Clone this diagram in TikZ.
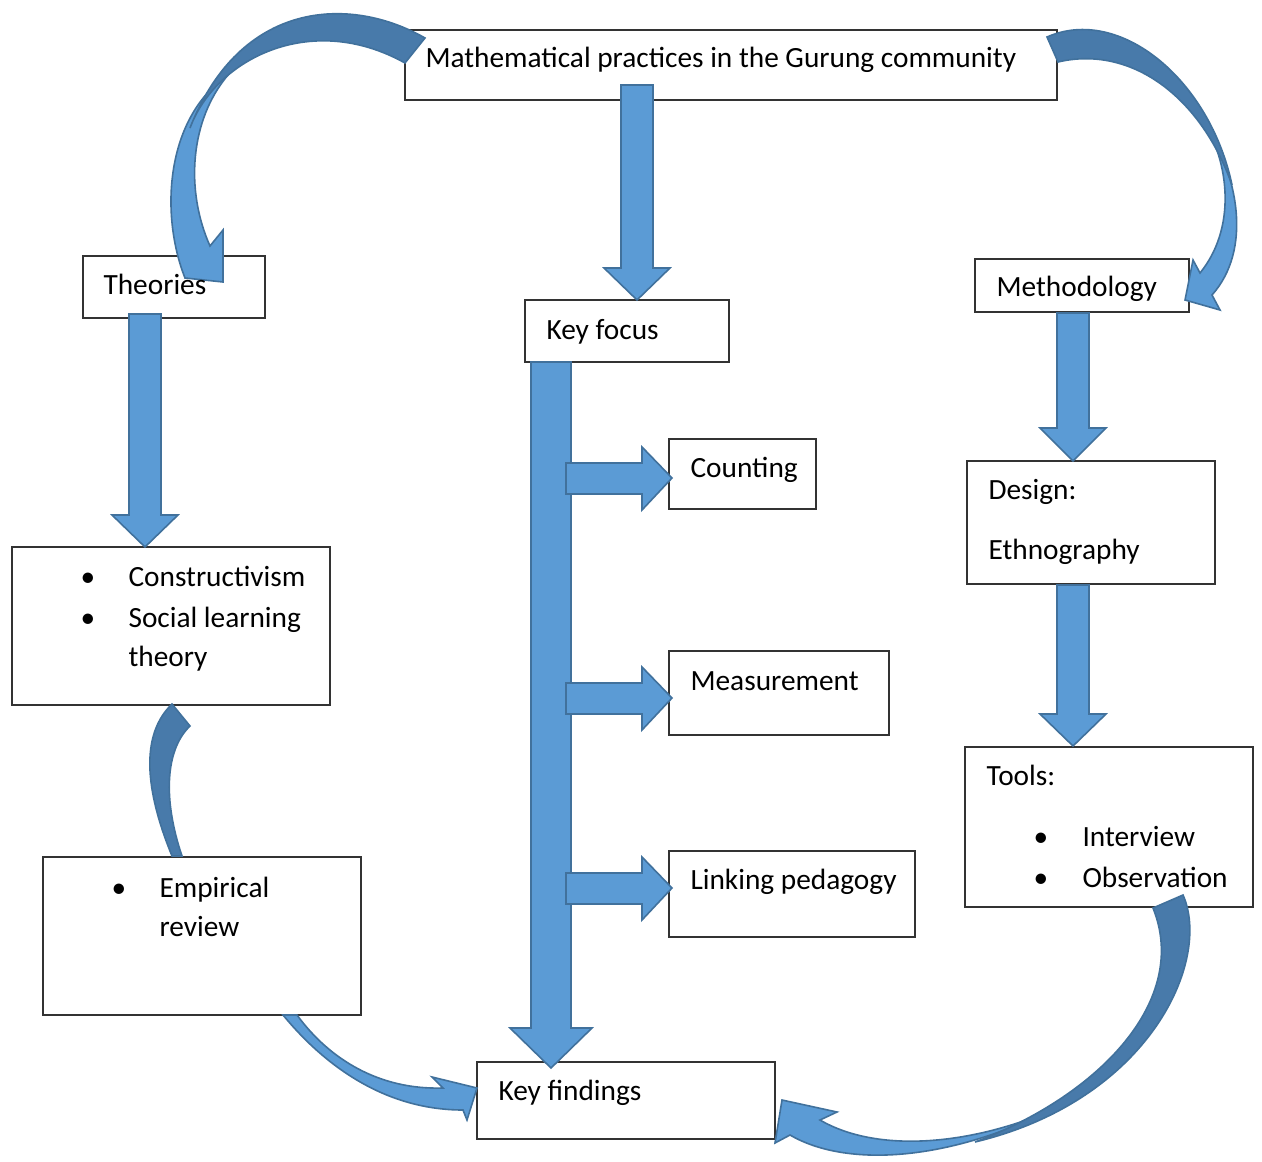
\documentclass[tikz,border=0pt]{standalone}
\usepackage{fontspec}
\setmainfont{Carlito}
\usetikzlibrary{fit}

\definecolor{arrowfill}{RGB}{91,155,213}
\definecolor{arrowline}{RGB}{65,113,156}
\definecolor{arrowback}{RGB}{72,122,170}

\tikzset{
  box/.style={draw=black!80, line width=0.5pt, fill=white, inner sep=0pt},
  lbl/.style={anchor=base west, inner sep=0pt, font=\fontsize{11pt}{13pt}\selectfont},
  blockarrow/.style={fill=arrowfill, draw=arrowline, line width=0.6pt},
  backarrow/.style={fill=arrowback, draw=arrowline, line width=0.6pt}
}

% x, top, head start, tip, shaft half, head half
\newcommand{\downblock}[6]{%
  \draw[blockarrow] (#1-#5,#2) -- (#1+#5,#2) -- (#1+#5,#3) -- (#1+#6,#3)
    -- (#1,#4) -- (#1-#6,#3) -- (#1-#5,#3) -- cycle;}
% start x, y, head start, tip
\newcommand{\rightblock}[4]{%
  \draw[blockarrow] (#1,#2-15) -- (#3,#2-15) -- (#3,#2-31) -- (#4,#2)
    -- (#3,#2+32) -- (#3,#2+16) -- (#1,#2+16) -- cycle;}

\begin{document}
\begin{tikzpicture}[x=0.375pt,y=-0.375pt]
  \useasboundingbox (0,0) rectangle (1262,1162);

  % boxes
  \node[box, fit={(405,30) (1057,100)}] (main) {};
  \node[box, fit={(83,256) (265,318)}] (theories) {};
  \node[box, fit={(525,300) (729,362)}] (focus) {};
  \node[box, fit={(975,259) (1189,312)}] (method) {};
  \node[box, fit={(669,439) (816,509)}] (counting) {};
  \node[box, fit={(669,651) (889,735)}] (measure) {};
  \node[box, fit={(669,851) (915,937)}] (linking) {};
  \node[box, fit={(967,461) (1215,584)}] (design) {};
  \node[box, fit={(965,747) (1253,907)}] (tools) {};
  \node[box, fit={(12,547) (330,705)}] (constr) {};
  \node[box, fit={(43,857) (361,1015)}] (empir) {};
  \node[box, fit={(477,1062) (775,1139)}] (findings) {};

  % straight block arrows
  \downblock{637}{85}{268}{300}{16}{33}
  \downblock{145}{314}{515}{547}{16}{33}
  \downblock{1073}{313}{428}{461}{16}{33}
  \downblock{1073}{585}{714}{746}{16}{33}
  \downblock{551}{362}{1028}{1068}{20}{41}
  \rightblock{566}{478}{642}{672}
  \rightblock{566}{698}{642}{672}
  \rightblock{566}{888}{642}{672}

  % curved arrow to theories
  \draw[blockarrow] (228,75) .. controls (165,118) and (160,215) .. (185,278)
    -- (223,282) -- (223,230) -- (210,246)
    .. controls (185,190) and (190,120) .. (228,75) -- cycle;
  \draw[backarrow] (425,38) .. controls (350,-5) and (240,0) .. (190,128)
    .. controls (215,60) and (310,10) .. (405,63) -- cycle;

  % curved arrow to methodology
  \draw[blockarrow] (1200,115) .. controls (1240,175) and (1252,250) .. (1212,295)
    -- (1220,310) -- (1185,300) -- (1193,260) -- (1200,273)
    .. controls (1235,230) and (1232,165) .. (1200,115) -- cycle;
  \draw[backarrow] (1047,37) .. controls (1120,5) and (1210,80) .. (1232,185)
    .. controls (1200,95) and (1130,45) .. (1058,62) -- cycle;

  % curved piece between the theory boxes
  \draw[backarrow] (172,704) -- (190,726) .. controls (165,750) and (163,800) .. (182,856)
    -- (172,856) .. controls (145,790) and (140,735) .. (172,704) -- cycle;

  % curved arrow from review to findings
  \draw[blockarrow] (283,1015) .. controls (320,1060) and (380,1110) .. (463,1110)
    -- (467,1120) -- (477,1088) -- (432,1077) -- (443,1088)
    .. controls (380,1090) and (330,1060) .. (297,1015) -- cycle;

  % curved arrow from tools to findings
  \draw[blockarrow] (1070,1100) .. controls (960,1160) and (850,1170) .. (790,1135)
    -- (775,1143) -- (782,1100) -- (837,1112) -- (820,1120)
    .. controls (880,1155) and (980,1145) .. (1070,1102) -- cycle;
  \draw[backarrow] (1183,895) .. controls (1212,960) and (1150,1100) .. (975,1142)
    .. controls (1100,1095) and (1190,1000) .. (1153,908) -- cycle;

  % texts
  \node[lbl] (mainT) at (425,68) {Mathematical practices in the Gurung community};
  \node[lbl] (theoriesT) at (103,294) {Theories};
  \node[lbl] (focusT) at (546,339) {Key focus};
  \node[lbl] (methodT) at (996,297) {Methodology};
  \node[lbl] (countingT) at (690,477) {Counting};
  \node[lbl] (measureT) at (690,690) {Measurement};
  \node[lbl] (linkingT) at (690,889) {Linking pedagogy};
  \node[lbl] (designT) at (988,499) {Design:};
  \node[lbl] (ethnoT) at (988,559) {Ethnography};
  \node[lbl] (toolsT) at (986,785) {Tools:};
  \node[lbl] (b1) at (80,586) {•};
  \node[lbl] (b2) at (80,627) {•};
  \node[lbl] (constrT) at (128,586) {Constructivism};
  \node[lbl] (socialT) at (128,627) {Social learning};
  \node[lbl] (theoryT) at (128,666) {theory};
  \node[lbl] (b3) at (111,897) {•};
  \node[lbl] (empirT) at (159,897) {Empirical};
  \node[lbl] (reviewT) at (159,936) {review};
  \node[lbl] (b4) at (1033,846) {•};
  \node[lbl] (b5) at (1033,887) {•};
  \node[lbl] (interT) at (1082,846) {Interview};
  \node[lbl] (obsT) at (1082,887) {Observation};
  \node[lbl] (findingsT) at (498,1100) {Key findings};
\end{tikzpicture}
\end{document}
